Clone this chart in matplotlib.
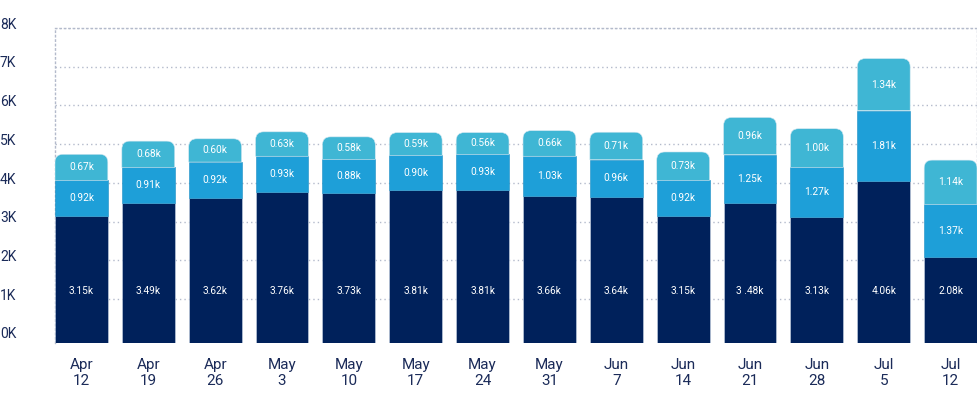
import matplotlib
matplotlib.use('Agg')
import matplotlib.pyplot as plt
import numpy as np
from matplotlib.path import Path
from matplotlib.patches import PathPatch

plt.rcParams['font.family'] = ['Roboto', 'DejaVu Sans']

# --------------------------------------------------------------------------- #
#  Data (thousands)
# --------------------------------------------------------------------------- #
weeks = ['Apr\n12', 'Apr\n19', 'Apr\n26', 'May\n3', 'May\n10', 'May\n17', 'May\n24',
         'May\n31', 'Jun\n7', 'Jun\n14', 'Jun\n21', 'Jun\n28', 'Jul\n5', 'Jul\n12']
base = [3.15, 3.49, 3.62, 3.76, 3.73, 3.81, 3.81, 3.66, 3.64, 3.15, 3.48, 3.13, 4.06, 2.08]
middle = [0.92, 0.91, 0.92, 0.93, 0.88, 0.90, 0.93, 1.03, 0.96, 0.92, 1.25, 1.27, 1.81, 1.37]
top = [0.67, 0.68, 0.60, 0.63, 0.58, 0.59, 0.56, 0.66, 0.71, 0.73, 0.96, 1.00, 1.34, 1.14]
# label text as printed in the source (one has a stray space)
label_overrides = {('base', 10): '3 .48k'}
y_ticks = [0, 1, 2, 3, 4, 5, 6, 7, 8]

DARK = '#00215B'
MID = '#1E9FD8'
LIGHT = '#3FB6D4'
TEXT = '#1B2B59'
GRID = '#B3BACB'

FLOOR = -0.13
Y_MAX = 8.0
BAR_W = 0.79
AX_W_PX, AX_H_PX = 922, 315
RADIUS_PX = 8


def rounded_top(ax, x, y0, h, width, color):
    x_lo, x_hi = ax.get_xlim()
    y_lo, y_hi = ax.get_ylim()
    rx = RADIUS_PX * (x_hi - x_lo) / AX_W_PX
    ry = RADIUS_PX * (y_hi - y_lo) / AX_H_PX
    x0, x1 = x - width / 2, x + width / 2
    y1 = y0 + h
    verts = [(x0, y0), (x0, y1 - ry), (x0, y1), (x0 + rx, y1),
             (x1 - rx, y1), (x1, y1), (x1, y1 - ry), (x1, y0), (x0, y0)]
    codes = [Path.MOVETO, Path.LINETO, Path.CURVE3, Path.CURVE3,
             Path.LINETO, Path.CURVE3, Path.CURVE3, Path.LINETO, Path.CLOSEPOLY]
    ax.add_patch(PathPatch(Path(verts, codes), facecolor=color,
                           edgecolor='#CFE6F0', lw=0.4, zorder=3))


def fmt(kind, i, v):
    return label_overrides.get((kind, i), f'{v:.2f}k')


fig = plt.figure(figsize=(9.78, 3.99), dpi=100)
ax = fig.add_axes([55 / 978, 56 / 399, AX_W_PX / 978, AX_H_PX / 399])

x = np.arange(len(weeks))
ax.set_xlim(-BAR_W / 2, len(weeks) - 1 + BAR_W / 2)
ax.set_ylim(FLOOR, Y_MAX)

b = np.array(base)
m = np.array(middle)
t = np.array(top)

ax.bar(x, b - FLOOR, BAR_W, bottom=FLOOR, color=DARK,
       edgecolor='#C9D6E6', linewidth=0.4, zorder=3)
ax.bar(x, m, BAR_W, bottom=b, color=MID,
       edgecolor='#1B8FC4', linewidth=0.4, zorder=3)
for i in range(len(weeks)):
    rounded_top(ax, x[i], b[i] + m[i], t[i], BAR_W, LIGHT)

lab_kw = dict(ha='center', va='center', color='white', fontsize=7.3, zorder=5)
for i in range(len(weeks)):
    ax.text(x[i], 1.2, fmt('base', i, b[i]), **lab_kw)
    ax.text(x[i], b[i] + m[i] / 2, fmt('mid', i, m[i]), **lab_kw)
    ax.text(x[i], b[i] + m[i] + t[i] / 2, fmt('top', i, t[i]), **lab_kw)

# grid + dotted frame
ax.set_yticks(y_ticks[1:])
ax.yaxis.grid(True, linestyle=(0, (1, 2.2)), color=GRID, lw=1, zorder=0)
ax.tick_params(axis='y', length=0, labelleft=False)
for side in ('left', 'right', 'top'):
    ax.spines[side].set_linestyle((0, (1, 2.2)))
    ax.spines[side].set_color(GRID)
    ax.spines[side].set_linewidth(1)
ax.spines['bottom'].set_visible(False)

for v in y_ticks:
    ax.annotate(f'{v}K', xy=(0.0, v), xycoords=('figure fraction', 'data'),
                xytext=(0, 2.5), textcoords='offset points',
                ha='left', va='center', fontsize=10, color=TEXT, annotation_clip=False)

ax.set_xticks(x)
ax.set_xticklabels(weeks, fontsize=11, color=TEXT, linespacing=1.25)
ax.tick_params(axis='x', length=0, pad=10.5)

plt.savefig('out.png', dpi=100)
plt.close()
